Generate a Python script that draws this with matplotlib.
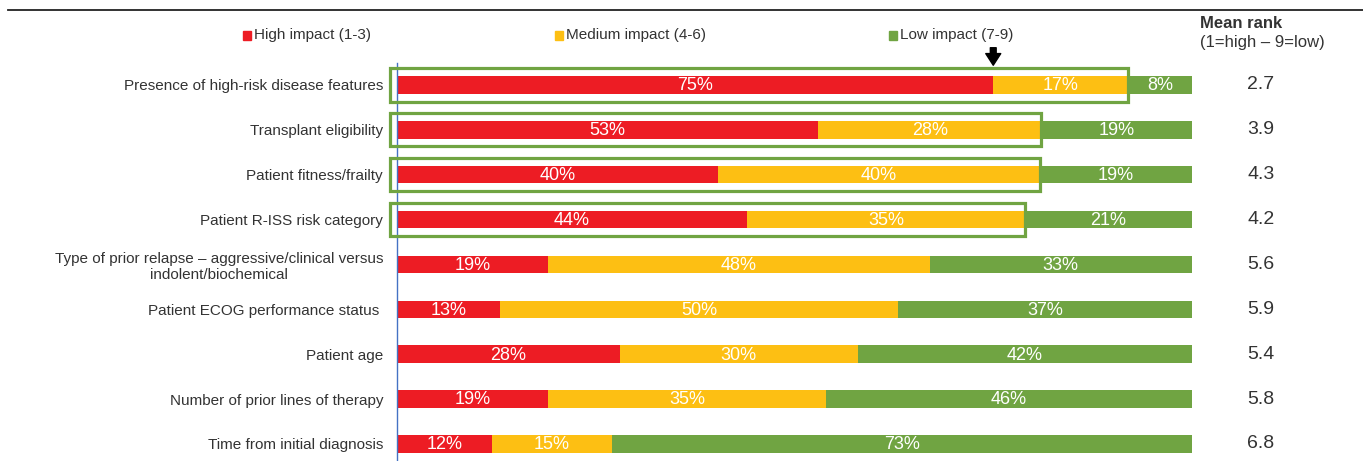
import matplotlib.pyplot as plt
from matplotlib.patches import Rectangle
from matplotlib.lines import Line2D
import numpy as np

plt.rcParams['font.family'] = ['Liberation Sans', 'DejaVu Sans']

factors = [
    "Presence of high-risk disease features",
    "Transplant eligibility",
    "Patient fitness/frailty",
    "Patient R-ISS risk category",
    "Type of prior relapse \u2013 aggressive/clinical versus\nindolent/biochemical",
    "Patient ECOG performance status ",
    "Patient age",
    "Number of prior lines of therapy",
    "Time from initial diagnosis",
]
high = [75, 53, 40.4, 44, 19, 13, 28, 19, 12]
medium = [17, 28, 40.5, 35, 48, 50, 30, 35, 15]
low = [8, 19, 19.1, 21, 33, 37, 42, 46, 73]
mean_rank = ["2.7", "3.9", "4.3", "4.2", "5.6", "5.9", "5.4", "5.8", "6.8"]
boxed = [True, True, True, True, False, False, False, False, False]

series_names = ["High impact (1-3)", "Medium impact (4-6)", "Low impact (7-9)"]
colors = ["#ED1C24", "#FDBF13", "#70A442"]
text_col = "#333333"

W, H = 1363, 461
fig = plt.figure(figsize=(W / 100, H / 100), dpi=100)
ax = fig.add_axes([397 / W, 0, 795 / W, (H - 63) / H])

y = np.arange(len(factors))
left = np.zeros(len(factors))
for vals, c in zip([high, medium, low], colors):
    vals = np.array(vals)
    ax.barh(y, vals, left=left, height=0.39, color=c, edgecolor="none")
    for yi, l, v in zip(y, left, vals):
        ax.text(l + v / 2, yi + 0.02, f"{round(v)}%", ha="center", va="center",
                color="white", fontsize=13)
    left = left + vals

# green highlight boxes around high + medium
for yi, h, m, b in zip(y, high, medium, boxed):
    if b:
        ax.add_patch(Rectangle((-0.9, yi - 0.37), h + m + 0.9, 0.74,
                               fill=False, edgecolor="#70A442", lw=2.3,
                               clip_on=False, zorder=3))

ax.set_xlim(0, 100)
ax.set_ylim(8.38, -0.49)
ax.set_yticks(y)
ax.set_yticklabels(factors, fontsize=11, color=text_col, multialignment="center")
ax.tick_params(axis="y", length=0, pad=10)
ax.set_xticks([])
for s in ["top", "right", "bottom"]:
    ax.spines[s].set_visible(False)
ax.spines["left"].set_color("#4472C4")
ax.spines["left"].set_linewidth(1)

# arrow over first bar boundary
ax.annotate("", xy=(high[0], -0.44), xytext=(high[0], -0.83),
            arrowprops=dict(arrowstyle="simple,head_width=0.9,head_length=0.7,tail_width=0.35",
                            color="black", mutation_scale=12, shrinkA=0, shrinkB=0),
            annotation_clip=False)

# mean rank column
for yi, r in zip(y, mean_rank):
    ax.text(1261, ax.transData.transform((0, yi))[1], r, transform=None,
            ha="center", va="center", fontsize=14, color=text_col)
fig.text(1200 / W, 1 - 24 / H, "Mean rank", fontsize=12, fontweight="bold",
         color=text_col, ha="left", va="center")
fig.text(1200 / W, 1 - 43 / H, "(1=high \u2013 9=low)", fontsize=12,
         color=text_col, ha="left", va="center")

# legend
leg_x = [243, 555, 889]
for lx, name, c in zip(leg_x, series_names, colors):
    fig.patches.append(Rectangle((lx / W, 1 - 40 / H), 8 / W, 9 / H,
                                 transform=fig.transFigure, color=c))
    fig.text((lx + 11) / W, 1 - 35 / H, name, fontsize=11, color=text_col,
             ha="left", va="center")

# top rule
fig.add_artist(Line2D([8 / W, 1], [1 - 10 / H, 1 - 10 / H],
                      transform=fig.transFigure, color="#222222", lw=1.3))

fig.savefig("out.png", dpi=100)
